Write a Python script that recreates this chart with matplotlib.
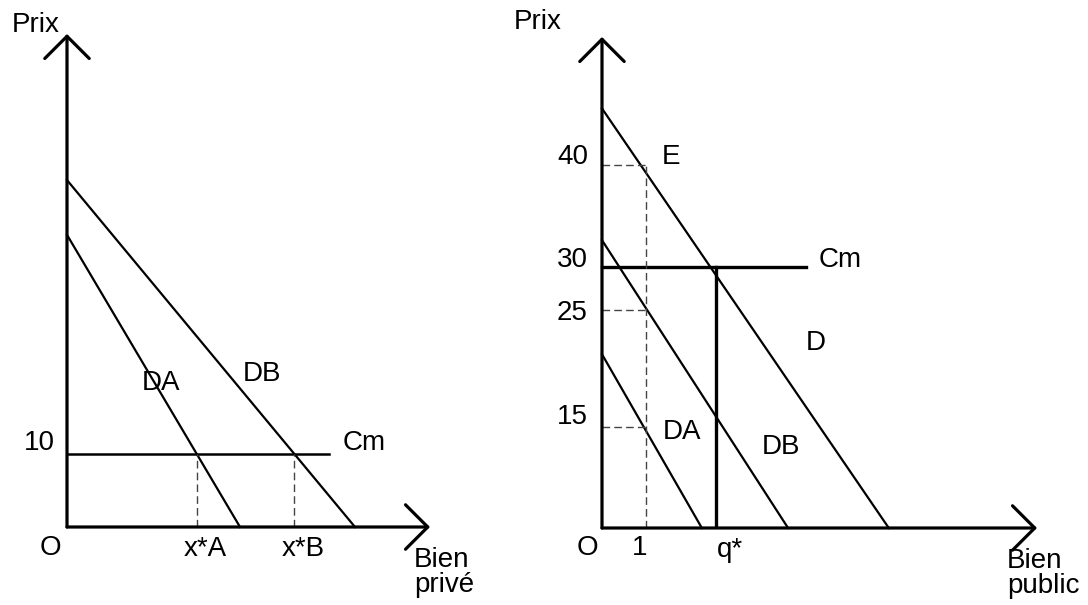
import numpy as np
import matplotlib
matplotlib.use("Agg")
import matplotlib.pyplot as plt

plt.rcParams['font.family'] = ['Liberation Sans', 'DejaVu Sans']
FS = 20

# --- bien privé: demandes individuelles et coût marginal ---
priv_cm = 10
priv_da = (40.0, 17.3)   # (ordonnée à l'origine, abscisse à l'origine)
priv_db = (47.5, 28.8)
priv_cm_end = 26.2
priv_xmax, priv_ymax = 36.3, 67.5

# --- bien public: demandes individuelles, demande agrégée D ---
pub_cm = 30
pub_da = (21.2, 2.27)
pub_db = (32.6, 4.23)
pub_d = (45.5, 6.52)
pub_cm_end = 4.64
pub_q_unit = 1
pub_q_star = 2.6
pub_prices = [40, 25, 15]     # prix lus en q = 1
pub_ticks = [40, 30, 25, 15]
pub_xmax, pub_ymax = 9.89, 52.5

# échelle schématique du diagramme (prix -> hauteur dessinée)
knot_p = [0, 15, 25, 30, 40, 60]
knot_h = [0, 101, 218, 261, 363, 567]


def fwd(p):
    return np.interp(p, knot_p, knot_h)


def inv(h):
    return np.interp(h, knot_h, knot_p)


def demand_cut(line, price):
    top, end = line
    return end * (1 - price / top)


def axis_arrows(ax, xmax, ymax):
    style = dict(arrowstyle='->,head_length=0.8,head_width=0.8', lw=2.3,
                 color='black', shrinkA=0, shrinkB=0, mutation_scale=20)
    ax.annotate('', xy=(xmax, 0), xytext=(0, 0), arrowprops=style,
                annotation_clip=False)
    ax.annotate('', xy=(0, ymax), xytext=(0, 0), arrowprops=style,
                annotation_clip=False)


def label(ax, s, xy, off=(0, 0), **kw):
    kw.setdefault('ha', 'center')
    kw.setdefault('va', 'center')
    ax.annotate(s, xy=xy, xytext=off, textcoords='offset pixels',
                fontsize=FS, annotation_clip=False, **kw)


fig = plt.figure(figsize=(10.88, 6.05), dpi=100)
W, H = 1088, 605
dash = dict(color='#444444', lw=1.0, linestyle=(0, (5.5, 3)))

# ---------- panneau gauche ----------
ax1 = fig.add_axes([67 / W, 78 / H, 363 / W, 493 / H])
ax1.set_xlim(0, priv_xmax)
ax1.set_ylim(0, priv_ymax)
ax1.axis('off')

for top, end in (priv_da, priv_db):
    ax1.plot([0, end], [top, 0], color='black', lw=1.6, clip_on=False)
ax1.plot([0, priv_cm_end], [priv_cm, priv_cm], color='black', lw=1.8, clip_on=False)

xa = demand_cut(priv_da, priv_cm)
xb = demand_cut(priv_db, priv_cm)
for xq in (xa, xb):
    ax1.plot([xq, xq], [0, priv_cm], **dash)
axis_arrows(ax1, priv_xmax, priv_ymax)

label(ax1, 'Prix', (0, priv_ymax), (-7, 9), ha='right')
label(ax1, '10', (0, priv_cm), (-12, 11), ha='right')
label(ax1, 'Cm', (priv_cm_end, priv_cm), (14, 11), ha='left')
label(ax1, 'DA', (9.4, 19.7))
label(ax1, 'DB', (19.5, 21.0))
label(ax1, 'O', (0, 0), (-17, -21))
label(ax1, 'x*A', (xa, 0), (8, -22))
label(ax1, 'x*B', (xb, 0), (9, -22))
label(ax1, 'Bien\nprivé', (priv_xmax, 0), (-16, -20), ha='left', va='top',
      linespacing=0.95)

# ---------- panneau droit ----------
ax2 = fig.add_axes([602 / W, 77 / H, 435 / W, 491 / H])
ax2.set_yscale('function', functions=(fwd, inv))
ax2.set_xlim(0, pub_xmax)
ax2.set_ylim(0, pub_ymax)
ax2.axis('off')

for top, end in (pub_da, pub_db, pub_d):
    ax2.plot([0, end], [top, 0], color='black', lw=1.6, clip_on=False)
ax2.plot([0, pub_cm_end], [pub_cm, pub_cm], color='black', lw=2.4, clip_on=False)
ax2.plot([pub_q_star, pub_q_star], [0, pub_cm], color='black', lw=2.4)

ax2.plot([pub_q_unit, pub_q_unit], [0, max(pub_prices)], **dash)
for p in pub_prices:
    ax2.plot([0, pub_q_unit], [p, p], **dash)
axis_arrows(ax2, pub_xmax, pub_ymax)

tick_off = {40: 8, 30: 7, 25: -3, 15: 10}
for t in pub_ticks:
    label(ax2, str(t), (0, t), (-14, tick_off[t]), ha='right')
label(ax2, 'Prix', (0, pub_ymax), (-40, 15), ha='right')
label(ax2, 'E', (pub_q_unit, max(pub_prices)), (16, 8), ha='left')
label(ax2, 'Cm', (pub_cm_end, pub_cm), (13, 7), ha='left')
label(ax2, 'D', (4.86, 22.2))
label(ax2, 'DA', (1.82, 14.3))
label(ax2, 'DB', (4.07, 12.0))
label(ax2, 'O', (0, 0), (-15, -20))
label(ax2, '1', (pub_q_unit, 0), (-6, -20))
label(ax2, 'q*', (pub_q_star, 0), (14, -22))
label(ax2, 'Bien\npublic', (pub_xmax, 0), (-30, -20), ha='left', va='top',
      linespacing=0.95)

fig.savefig('out.png', dpi=100)
